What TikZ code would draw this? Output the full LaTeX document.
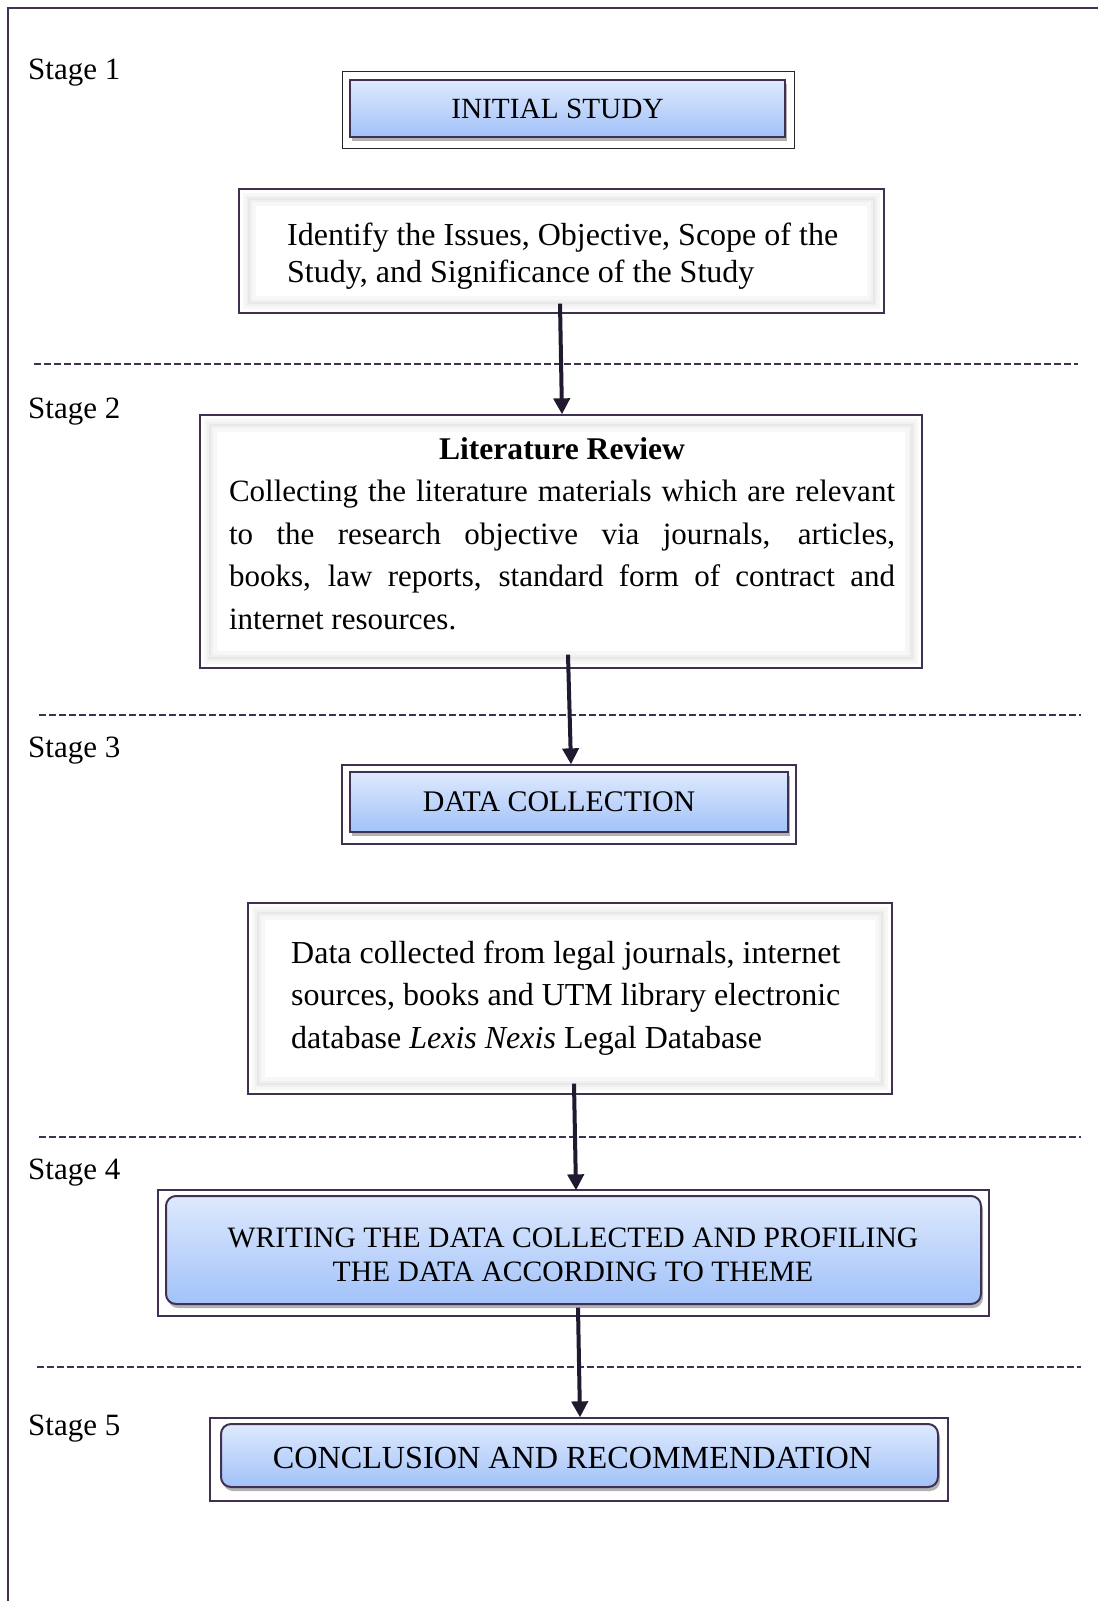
\documentclass[tikz,border=0pt]{standalone}
\usepackage{fontspec}
\setmainfont{Liberation Serif}
\usetikzlibrary{shadows,arrows.meta,calc}
\definecolor{framec}{RGB}{64,49,82}
\definecolor{arrowc}{RGB}{32,25,48}
\definecolor{bluetop}{RGB}{222,233,253}
\definecolor{bluebot}{RGB}{162,194,249}
\begin{document}
\begin{tikzpicture}[x=1pt,y=-1pt,
  outerframe/.style={draw=framec, line width=1.3pt, inner sep=0pt, fill=white},
  bluebox/.style={draw=framec, line width=2pt, top color=bluetop, bottom color=bluebot,
    inner sep=0pt, align=center,
    drop shadow={shadow xshift=2pt, shadow yshift=-4pt, opacity=0.3, fill=black}},
  whitebox/.style={draw=framec, line width=1.3pt, inner sep=0pt, fill=white},
  stagelbl/.style={anchor=west, inner sep=0pt, font=\fontsize{31}{36}\selectfont},
  sepline/.style={draw=framec, line width=2.2pt, dash pattern=on 7pt off 3pt},
  flowarrow/.style={draw=arrowc, line width=4pt, -{Triangle[length=16pt,width=16pt]}},
  glowa/.style={draw=black!3, line width=13pt},
  glowb/.style={draw=black!6, line width=6pt},
  glowc/.style={draw=black!9, line width=2pt}
]
\useasboundingbox (0,0) rectangle (1098,1601);
% page border (top and left)
\draw[draw=framec, line width=2.5pt] (8,1601) -- (8,8) coordinate (pc) -- (1098,8);

% stage labels
\node[stagelbl] (st1) at (28,73) {Stage 1};
\node[stagelbl] (st2) at (28,412) {Stage 2};
\node[stagelbl] (st3) at (28,751) {Stage 3};
\node[stagelbl] (st4) at (28,1173) {Stage 4};
\node[stagelbl] (st5) at (28,1429) {Stage 5};

% separators
\coordinate (d1a) at (34,364);  \coordinate (d1b) at (1078,364);
\coordinate (d2a) at (39,715);  \coordinate (d2b) at (1081,715);
\coordinate (d3a) at (39,1137); \coordinate (d3b) at (1081,1137);
\coordinate (d4a) at (37,1367); \coordinate (d4b) at (1081,1367);
\draw[sepline] (d1a) -- (d1b);
\draw[sepline] (d2a) -- (d2b);
\draw[sepline] (d3a) -- (d3b);
\draw[sepline] (d4a) -- (d4b);

% Stage 1
\node[outerframe, draw=black!85, line width=1pt, minimum width=452pt, minimum height=77pt] (iso) at (568,109.5) {};
\node[bluebox, minimum width=435pt, minimum height=57pt, font=\fontsize{29.3}{34}\selectfont] (is) at (567.5,108.5) {INITIAL STUDY\hspace*{20pt}};

\node[whitebox, minimum width=645pt, minimum height=124pt] (id) at (561.5,251) {};
\draw[glowa] ($(id.north west)+(11,11)$) rectangle ($(id.south east)+(-11,-11)$);
\draw[glowb] ($(id.north west)+(11,11)$) rectangle ($(id.south east)+(-11,-11)$);
\draw[glowc] ($(id.north west)+(11,11)$) rectangle ($(id.south east)+(-11,-11)$);
\node[font=\fontsize{32}{37}\selectfont, align=left, inner sep=0pt, anchor=west] (idt) at (287,256)
  {Identify the Issues, Objective, Scope of the\\Study, and Significance of the Study};

% Stage 2
\node[whitebox, minimum width=722pt, minimum height=253pt] (lit) at (561,541.5) {};
\draw[glowa] ($(lit.north west)+(11,11)$) rectangle ($(lit.south east)+(-11,-11)$);
\draw[glowb] ($(lit.north west)+(11,11)$) rectangle ($(lit.south east)+(-11,-11)$);
\draw[glowc] ($(lit.north west)+(11,11)$) rectangle ($(lit.south east)+(-11,-11)$);
\node[font=\fontsize{31.6}{36}\selectfont\bfseries, inner sep=0pt] (lith) at (562,449) {Literature Review};
\node[font=\fontsize{31}{42.5}\selectfont, align=justify, inner sep=0pt, text width=666pt] (litt) at (562,555)
  {Collecting the literature materials which are relevant\linebreak
   to the research objective via journals, articles,\linebreak
   books, law reports, standard form of contract and\linebreak
   internet resources.};

% Stage 3
\node[outerframe, minimum width=454pt, minimum height=79pt] (dco) at (569,804.5) {};
\node[bluebox, minimum width=438pt, minimum height=60pt, font=\fontsize{29.9}{34}\selectfont] (dc) at (569,802) {DATA COLLECTION\hspace*{20pt}};

\node[whitebox, minimum width=644pt, minimum height=191pt] (dd) at (570,998.5) {};
\draw[glowa] ($(dd.north west)+(11,11)$) rectangle ($(dd.south east)+(-11,-11)$);
\draw[glowb] ($(dd.north west)+(11,11)$) rectangle ($(dd.south east)+(-11,-11)$);
\draw[glowc] ($(dd.north west)+(11,11)$) rectangle ($(dd.south east)+(-11,-11)$);
\node[font=\fontsize{32}{42.5}\selectfont, align=left, inner sep=0pt, anchor=west] (ddt) at (291,998)
  {Data collected from legal journals, internet\\
   sources, books and UTM library electronic\\
   database \textit{Lexis Nexis} Legal Database};

% Stage 4
\node[outerframe, minimum width=831pt, minimum height=126pt] (wro) at (573.5,1253) {};
\node[bluebox, rounded corners=10pt, minimum width=815pt, minimum height=108pt] (wr) at (573.5,1250) {};
\node[font=\fontsize{29.6}{34}\selectfont, align=center, inner sep=0pt] (wrt) at (573,1254.5)
  {WRITING THE DATA COLLECTED AND PROFILING\\THE DATA ACCORDING TO THEME};

% Stage 5
\node[outerframe, minimum width=738pt, minimum height=83pt] (coo) at (579,1459.5) {};
\node[bluebox, rounded corners=10pt, minimum width=717pt, minimum height=63pt] (co) at (579.5,1455.5) {};
\node[font=\fontsize{32.2}{36}\selectfont, inner sep=0pt] (cot) at (572.5,1457.5) {CONCLUSION AND RECOMMENDATION};

% arrows
\draw[flowarrow] ($(id.south)+(-1.5,-10)$) -- ($(lit.north)+(1,0)$);
\draw[flowarrow] ($(lit.south)+(7,-14)$) -- ($(dco.north)+(2,0)$);
\draw[flowarrow] ($(dd.south)+(4,-11)$) -- ($(wro.north)+(2.5,1)$);
\draw[flowarrow] ($(wro.south)+(4.5,-9)$) -- ($(coo.north)+(1,0)$);
\end{tikzpicture}
\end{document}
